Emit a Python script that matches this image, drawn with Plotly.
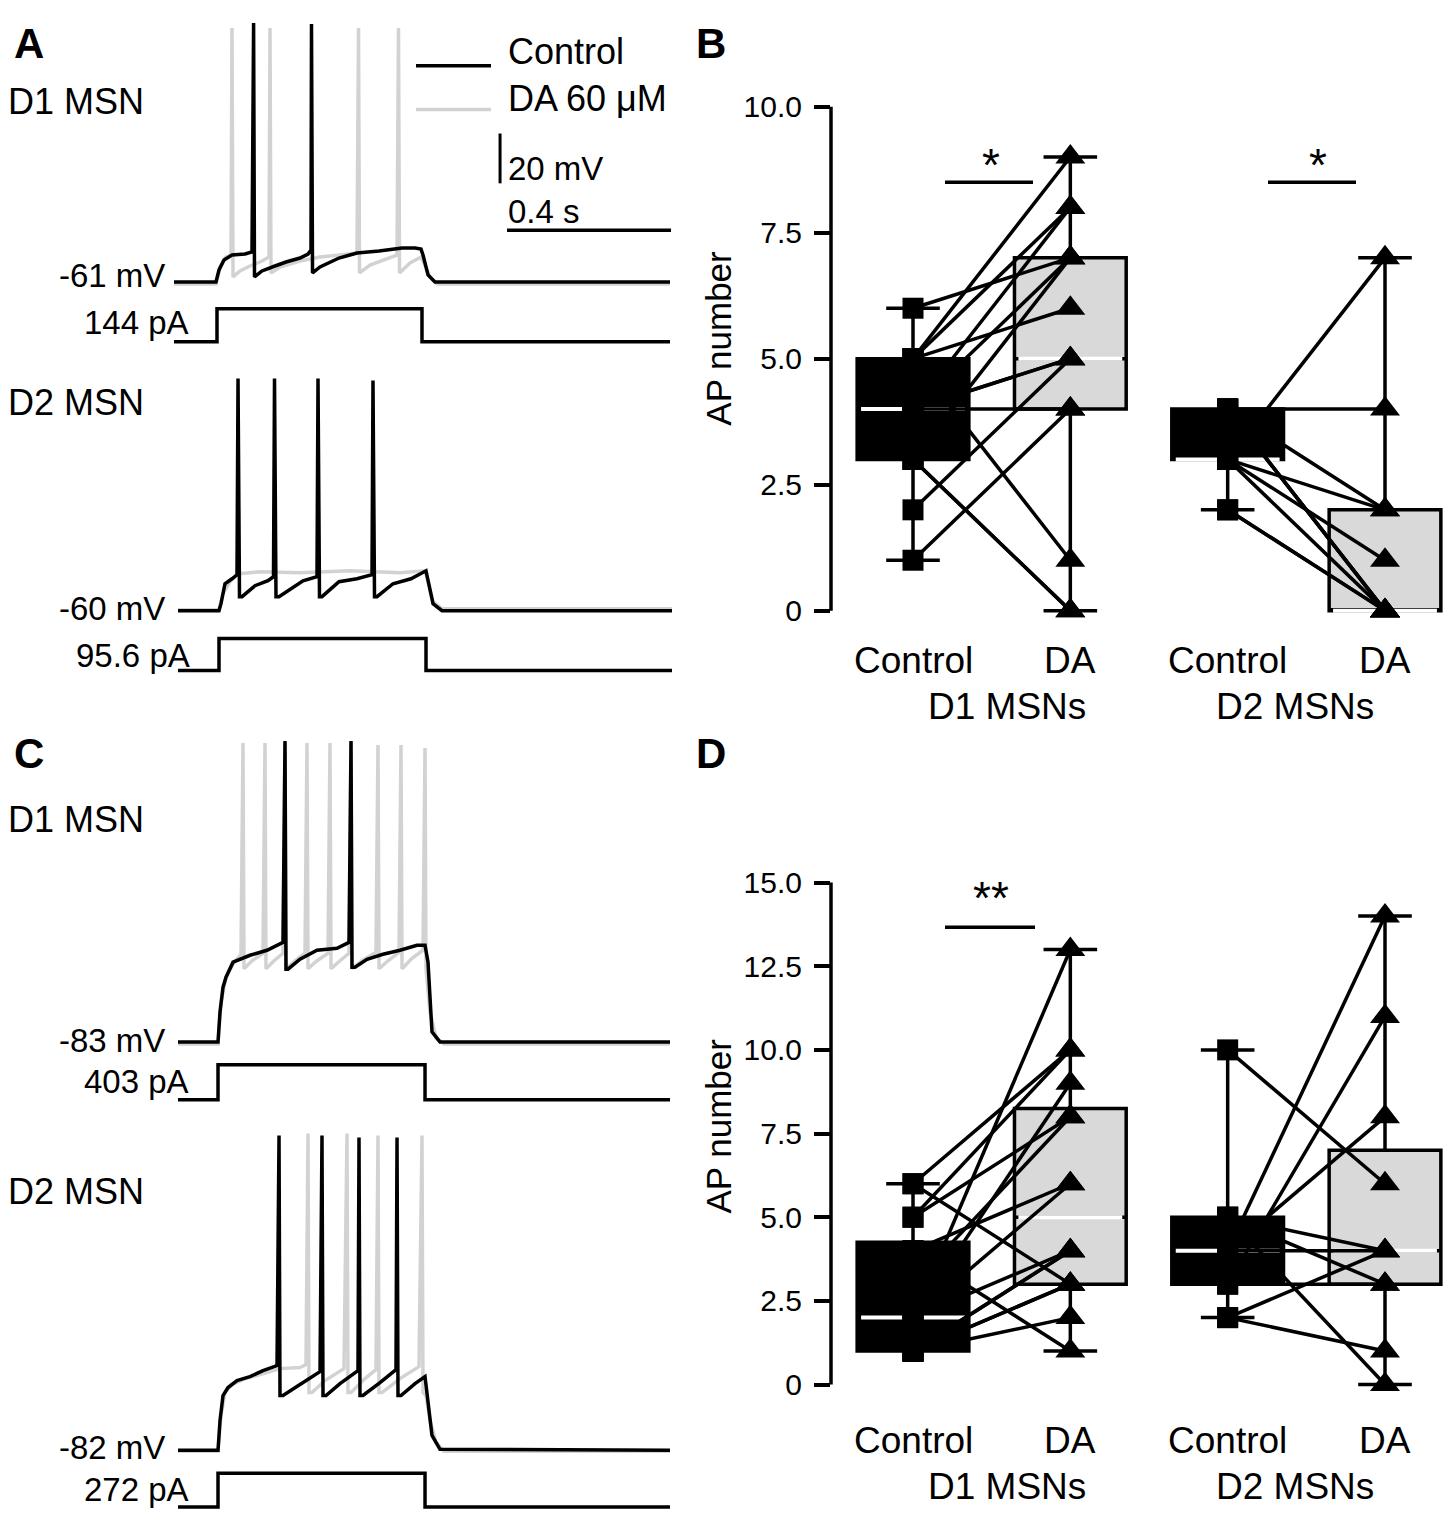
import numpy as np
import plotly.graph_objects as go

W, H = 1452, 1531
PAD = 8  # default body margin of the html page
FONT = "Liberation Sans, Arial, Helvetica, sans-serif"
TRACE_GRAY = "#d2d2d2"
BOX_GRAY = "#d9d9d9"

# ---------------- panels A and C: sweeps (time in ms, potential in mV) ----------------
a_d1_ctrl_t = [9.8, 112.2, 119.5, 131.7, 151.2, 182.9, 200.0, 203.9, 206.1, 224.4, 256.1, 282.9, 317.1, 336.6,
               343.9, 345.1, 347.6, 365.9, 412.2, 456.1, 509.8, 565.9, 597.6, 612.2, 617.1, 629.3, 646.3, 1219.5]
a_d1_ctrl_mv = [-61, -61, -56.2, -52.2, -50.2, -49.8, -49.0, 43.0, -59.0, -56.6, -54.6, -53.0, -51.4, -49.8,
                -48.2, 42.6, -57.4, -55.0, -51.4, -49.4, -48.6, -47.4, -47.4, -47.8, -50.2, -58.2, -61, -61]
a_d1_da_t = [9.8, 112.2, 122.0, 136.6, 148.8, 151.2, 153.7, 170.7, 195.1, 224.4, 241.5, 243.9, 246.3, 268.3,
             317.1, 365.9, 414.6, 456.1, 459.8, 462.2, 487.8, 524.4, 553.7, 557.3, 559.8, 585.4, 612.2, 619.5,
             634.1, 651.2, 1219.5]
a_d1_da_mv = [-61.8, -61.8, -55.0, -51.0, -50.2, 41.0, -59.0, -56.6, -54.6, -52.6, -51.0, 41.0, -57.4, -55.0,
              -52.6, -51.0, -50.2, -49.4, 41.0, -57.4, -54.2, -51.8, -50.2, 41.0, -57.4, -53.4, -51.0, -53.4,
              -59.0, -61.8, -61.8]

a_d2_ctrl_t = [19.5, 119.5, 124.4, 134.1, 151.2, 163.4, 165.9, 169.5, 175.6, 207.3, 239.0, 252.4, 254.9, 258.5,
               265.9, 324.4, 358.5, 361.0, 364.6, 370.7, 412.2, 456.1, 492.7, 495.1, 498.8, 504.9, 543.9, 587.8,
               624.4, 641.5, 663.4, 1224.4]
a_d2_ctrl_mv = [-60, -60, -57.2, -49.2, -47.2, -45.6, 33.2, -54.4, -54.4, -50.0, -48.0, -46.4, 33.2, -54.4,
                -54.4, -48.0, -46.4, 33.2, -54.4, -54.4, -48.4, -47.2, -45.6, 32.4, -54.4, -54.4, -49.2, -47.2,
                -44.0, -57.2, -60, -60]
a_d2_da_t = [19.5, 119.5, 129.3, 146.3, 165.9, 219.5, 317.1, 439.0, 561.0, 622.0, 629.3, 641.5, 663.4, 1224.4]
a_d2_da_mv = [-59.6, -59.6, -53.2, -48.4, -45.2, -44.4, -44.8, -44.0, -44.8, -44.0, -48.4, -56.4, -59.2, -59.2]

c_d1_ctrl_t = [19.5, 117.1, 122.0, 129.3, 136.6, 153.7, 195.1, 236.6, 275.6, 280.5, 282.9, 287.8, 317.1, 358.5,
               407.3, 436.6, 441.5, 443.9, 451.2, 480.5, 519.5, 561.0, 602.4, 622.0, 629.3, 639.0, 658.5, 1219.5]
c_d1_ctrl_mv = [-83, -83, -71, -61, -57, -51, -48.2, -46.2, -43, 37.8, -53.8, -53.8, -49.8, -46.2,
                -45.4, -43, 37.8, -53, -53, -49.8, -47.8, -46.2, -44.2, -44.2, -51, -79, -83, -83]
c_d1_da_t = [19.5, 117.1, 124.4, 136.6, 153.7, 173.2, 178.0, 180.5, 200.0, 226.8, 231.7, 234.1, 253.7, 275.6,
             280.5, 282.9, 304.9, 329.3, 334.1, 336.6, 358.5, 385.4, 390.2, 392.7, 414.6, 436.6, 441.5, 443.9,
             468.3, 502.4, 507.3, 509.8, 531.7, 558.5, 563.4, 565.9, 590.2, 617.1, 622.0, 624.4, 634.1, 648.8,
             668.3, 1219.5]
c_d1_da_mv = [-83.8, -83.8, -67, -57, -51.8, -47.8, 37, -53.6, -50.4, -47.4, 37, -53.6, -50.4, -47.4,
              37, -53.6, -50.4, -47.4, 37, -53.6, -50.4, -47.4, 37, -53.6, -50.4, -47.4, 37, -53.6,
              -50.4, -47, 36.2, -53.6, -50.4, -47, 36.2, -53.6, -49.4, -46.2, 35, -53.6, -71, -81.4,
              -83.8, -83.8]

c_d2_ctrl_t = [19.5, 117.1, 122.0, 129.3, 141.5, 163.4, 195.1, 226.8, 261.0, 265.9, 268.3, 275.6, 317.1, 365.9,
               370.7, 373.2, 380.5, 414.6, 458.5, 461.0, 463.4, 470.7, 512.2, 551.2, 553.7, 556.1, 563.4, 597.6,
               622.0, 629.3, 639.0, 658.5, 1219.5]
c_d2_ctrl_mv = [-82, -82, -70, -60, -56.8, -54, -52.4, -50, -48, 44.4, -60, -60, -55.6, -50.4,
                44.4, -60, -60, -55.2, -50, 43.6, -60, -60, -54.8, -49.6, 43.6, -60, -60, -55.2,
                -52.4, -62, -76, -81.6, -82]
c_d2_da_t = [19.5, 117.1, 124.4, 134.1, 151.2, 182.9, 219.5, 268.3, 317.1, 331.7, 336.6, 339.0, 346.3, 378.0,
             424.4, 431.7, 434.1, 441.5, 475.6, 502.4, 507.3, 509.8, 517.1, 561.0, 607.3, 614.6, 617.1, 624.4,
             634.1, 648.8, 668.3, 1219.5]
c_d2_da_mv = [-82.4, -82.4, -68, -58.8, -55.6, -53.2, -51.6, -49.2, -48.8, -47.6, 45.2, -58.8, -58.8, -54,
              -49.2, 45.2, -58.8, -58.8, -53.2, -49.6, 44.4, -58.8, -58.8, -53.2, -48.4, 44.4, -58.8, -60,
              -70, -78.8, -82.4, -82.4]

# injected current steps (pA)
a_d1_step_t = [9.8, 114.6, 114.6, 614.6, 614.6, 1219.5]
a_d1_step_pa = [0, 0, 144, 144, 0, 0]
a_d2_step_t = [19.5, 119.5, 119.5, 624.4, 624.4, 1224.4]
a_d2_step_pa = [0, 0, 95.6, 95.6, 0, 0]
c_d1_step_t = [19.5, 117.1, 117.1, 622.0, 622.0, 1219.5]
c_d1_step_pa = [0, 0, 403, 403, 0, 0]
c_d2_step_t = [19.5, 117.1, 117.1, 622.0, 622.0, 1219.5]
c_d2_step_pa = [0, 0, 272, 272, 0, 0]

# ---------------- panels B and D: AP number per cell (paired) ----------------
conditions = ["Control", "DA", "Control", "DA"]
groups = ["D1 MSNs", "D2 MSNs"]
b_d1_ctrl = [6, 5, 5, 5, 5, 4, 4, 4, 4, 3, 3, 3, 2, 1, 4]
b_d1_da = [7, 9, 6, 8, 1, 7, 8, 5, 4, 0, 0, 7, 5, 4, 5]
b_d2_ctrl = [3, 4, 4, 3, 3, 3, 4, 4, 2, 2, 4]
b_d2_da = [7, 4, 2, 2, 1, 0, 0, 0, 0, 0, 0]
d_d1_ctrl = [6, 6, 5, 5, 2, 2, 4, 4, 3, 2, 2, 1, 1, 1, 1, 1]
d_d1_da = [3, 10, 10, 8, 13, 9, 1, 6, 8, 6, 4, 4, 4, 3, 2, 3]
d_d2_ctrl = [10, 4, 3, 4, 5, 4, 2, 5, 3, 2, 5]
d_d2_da = [6, 14, 11, 8, 4, 4, 4, 3, 3, 1, 0]

FW, FH = W - 2 * PAD, H - 2 * PAD


def px(x):
    return (x - PAD) / FW


def py(y):
    return 1 - (y - PAD) / FH


def span(v0, p0, v1, p1, a, b):
    # axis range so that value v0 sits at pixel p0 and v1 at p1
    k = (v1 - v0) / (p1 - p0)
    return [v0 + (a - p0) * k, v0 + (b - p0) * k]


def ref(i, c):
    return c if i == 1 else f"{c}{i}"


def axkey(i, c):
    return f"{c}axis" if i == 1 else f"{c}axis{i}"


fig = go.Figure()
layout = {}
T_RANGE = span(0, 170, 1000, 580, 150, 700)

# (axis no, top px, bottom px, value, its px, value, its px)
trace_axes = [
    (1, 8, 292, -61, 277, -21, 177),
    (2, 294, 350, 0, 337, 144, 304),
    (3, 355, 620, -60, 607, -20, 507),
    (4, 624, 680, 0, 667, 95.6, 635),
    (5, 720, 1053, -83, 1040, -43, 940),
    (6, 1056, 1112, 0, 1098, 403, 1063),
    (7, 1115, 1462, -82, 1450, -42, 1350),
    (8, 1465, 1522, 0, 1507, 272, 1473),
]
for n, top, bot, v0, p0, v1, p1 in trace_axes:
    layout[axkey(n, "x")] = dict(domain=[px(150), px(700)], range=T_RANGE, visible=False,
                                 anchor=ref(n, "y"), fixedrange=True)
    layout[axkey(n, "y")] = dict(domain=[py(bot), py(top)], range=span(v0, p0, v1, p1, bot, top),
                                 visible=False, anchor=ref(n, "x"), fixedrange=True)

sweeps = [
    (1, a_d1_da_t, a_d1_da_mv, a_d1_ctrl_t, a_d1_ctrl_mv),
    (3, a_d2_da_t, a_d2_da_mv, a_d2_ctrl_t, a_d2_ctrl_mv),
    (5, c_d1_da_t, c_d1_da_mv, c_d1_ctrl_t, c_d1_ctrl_mv),
    (7, c_d2_da_t, c_d2_da_mv, c_d2_ctrl_t, c_d2_ctrl_mv),
]
for n, dt, dv, ct, cv in sweeps:
    fig.add_trace(go.Scatter(x=dt, y=dv, mode="lines", line=dict(color=TRACE_GRAY, width=3.5),
                             xaxis=ref(n, "x"), yaxis=ref(n, "y"), hoverinfo="skip", showlegend=False))
    fig.add_trace(go.Scatter(x=ct, y=cv, mode="lines", line=dict(color="black", width=3.5),
                             xaxis=ref(n, "x"), yaxis=ref(n, "y"), hoverinfo="skip", showlegend=False))

steps = [(2, a_d1_step_t, a_d1_step_pa), (4, a_d2_step_t, a_d2_step_pa),
         (6, c_d1_step_t, c_d1_step_pa), (8, c_d2_step_t, c_d2_step_pa)]
for n, st, sp in steps:
    fig.add_trace(go.Scatter(x=st, y=sp, mode="lines", line=dict(color="black", width=3.5),
                             xaxis=ref(n, "x"), yaxis=ref(n, "y"), hoverinfo="skip", showlegend=False))

# scale bars: 20 mV and 0.4 s on the first sweep axes
SCALE_MV, SCALE_MS = 20, 400
fig.add_trace(go.Scatter(x=[805, 805], y=[-21.4, -21.4 + SCALE_MV], mode="lines",
                         line=dict(color="black", width=3), hoverinfo="skip", showlegend=False))
fig.add_trace(go.Scatter(x=[822, 822 + SCALE_MS], y=[-40.2, -40.2], mode="lines",
                         line=dict(color="black", width=3.5), hoverinfo="skip", showlegend=False))

# ---------------- box plots ----------------
positions = [1, 2, 3, 4]
box_axes = [(9, 90, 640, 0, 607, 10, 101, [0, 2.5, 5, 7.5, 10], ["0", "2.5", "5.0", "7.5", "10.0"],
             [b_d1_ctrl, b_d1_da, b_d2_ctrl, b_d2_da]),
            (10, 860, 1420, 0, 1384, 15, 880, [0, 2.5, 5, 7.5, 10, 12.5, 15],
             ["0", "2.5", "5.0", "7.5", "10.0", "12.5", "15.0"],
             [d_d1_ctrl, d_d1_da, d_d2_ctrl, d_d2_da])]

shapes = []
annotations = []
BOX_W = 0.71
for n, top, bot, v0, p0, v1, p1, tv, tt, sets in box_axes:
    xr, yr = ref(n, "x"), ref(n, "y")
    layout[axkey(n, "x")] = dict(domain=[px(831), px(1444)], range=span(1, 913, 4, 1385, 831, 1444),
                                 visible=False, anchor=yr, fixedrange=True)
    layout[axkey(n, "y")] = dict(domain=[py(bot), py(top)], range=span(v0, p0, v1, p1, bot, top),
                                 anchor=xr, showline=False, showgrid=False, zeroline=False,
                                 ticks="outside", ticklen=16, tickwidth=3.5, tickcolor="black",
                                 tickvals=tv, ticktext=tt, ticklabelstandoff=6,
                                 tickfont=dict(size=30, color="black", family=FONT), fixedrange=True)
    shapes.append(dict(type="line", xref=f"{xr} domain", yref=yr, x0=0, x1=0, y0=tv[0], y1=tv[-1],
                       line=dict(color="black", width=3.5)))
    for pos, vals, cond in zip(positions, sets, conditions):
        a = np.array(vals, dtype=float)
        fig.add_trace(go.Box(x=[pos], q1=[np.percentile(a, 25)], median=[np.median(a)],
                             q3=[np.percentile(a, 75)], lowerfence=[a.min()], upperfence=[a.max()],
                             width=BOX_W, whiskerwidth=0.48, orientation="v", boxpoints=False,
                             fillcolor="black" if cond == "Control" else BOX_GRAY,
                             line=dict(color="black", width=3.5), xaxis=xr, yaxis=yr,
                             hoverinfo="skip", showlegend=False))
    for pos, vals in zip(positions, sets):
        m = float(np.median(vals))
        fig.add_trace(go.Scatter(x=[pos - 0.33, pos + 0.33], y=[m, m], mode="lines",
                                 line=dict(color="white", width=4), xaxis=xr, yaxis=yr,
                                 hoverinfo="skip", showlegend=False))
    for g in range(2):
        c_vals, d_vals = sets[2 * g], sets[2 * g + 1]
        c_pos, d_pos = positions[2 * g], positions[2 * g + 1]
        lx, ly = [], []
        for c, d in zip(c_vals, d_vals):
            lx += [c_pos, d_pos, None]
            ly += [c, d, None]
        fig.add_trace(go.Scatter(x=lx, y=ly, mode="lines", line=dict(color="black", width=3.5),
                                 xaxis=xr, yaxis=yr, hoverinfo="skip", showlegend=False))
        fig.add_trace(go.Scatter(x=[c_pos] * len(c_vals), y=c_vals, mode="markers", cliponaxis=False,
                                 marker=dict(symbol="square", size=21, color="black"),
                                 xaxis=xr, yaxis=yr, hoverinfo="skip", showlegend=False))
        fig.add_trace(go.Scatter(x=[d_pos] * len(d_vals), y=d_vals, mode="markers", cliponaxis=False,
                                 marker=dict(symbol="triangle-up", size=26, color="black"),
                                 xaxis=xr, yaxis=yr, hoverinfo="skip", showlegend=False))
    # category and group labels
    lab_y = 657 if n == 9 else 1440
    grp_y = lab_y + 46
    for pos, cond in zip(positions, conditions):
        annotations.append(dict(text=cond, x=pos, xref=xr, y=py(lab_y), yref="paper", showarrow=False,
                                xanchor="center", yanchor="middle", font=dict(size=37)))
    for gx, gname in zip([1.6, 3.43], groups):
        annotations.append(dict(text=gname, x=gx, xref=xr, y=py(grp_y), yref="paper", showarrow=False,
                                xanchor="center", yanchor="middle", font=dict(size=37)))


def text(t, x, y, size=36, anchor="left", bold=False, angle=0):
    annotations.append(dict(text=f"<b>{t}</b>" if bold else t, x=px(x), y=py(y), xref="paper", yref="paper",
                            showarrow=False, xanchor=anchor, yanchor="middle", textangle=angle,
                            font=dict(size=size)))


def hline(x0, x1, y, color="black", width=3.5):
    shapes.append(dict(type="line", xref="paper", yref="paper", x0=px(x0), x1=px(x1), y0=py(y), y1=py(y),
                       line=dict(color=color, width=width)))


# panel letters
text("A", 29, 38, 42, "center", True)
text("B", 711, 38, 42, "center", True)
text("C", 29, 750, 42, "center", True)
text("D", 711, 750, 42, "center", True)

# cell labels and holding values
text("D1 MSN", 6, 96)
text("D2 MSN", 6, 398)
text("D1 MSN", 6, 817)
text("D2 MSN", 6, 1190)
text("-61 mV", 167, 271, 33, "right")
text("144 pA", 191, 318, 33, "right")
text("-60 mV", 167, 605, 33, "right")
text("95.6 pA", 192, 652, 33, "right")
text("-83 mV", 167, 1039, 33, "right")
text("403 pA", 191, 1080, 33, "right")
text("-82 mV", 167, 1447, 33, "right")
text("272 pA", 191, 1489, 33, "right")

# legend and scale bar labels
hline(416, 491, 60)
hline(416, 491, 104, TRACE_GRAY)
text("Control", 506, 46)
text("DA 60 μM", 506, 93)
text("20 mV", 506, 163, 33)
text("0.4 s", 506, 206, 33)

# y titles
text("AP number", 719, 334, 35, "center", angle=-90)
text("AP number", 719, 1125, 35, "center", angle=-90)

# significance
hline(945, 1033, 177)
hline(1268, 1356, 177)
hline(945, 1035, 925)
text("*", 991, 160, 46, "center")
text("*", 1318, 160, 46, "center")
text("**", 991, 896, 46, "center")

layout.update(
    width=FW, height=FH, margin=dict(l=0, r=0, t=0, b=0),
    paper_bgcolor="white", plot_bgcolor="rgba(0,0,0,0)",
    font=dict(family=FONT, color="black", size=34),
    showlegend=False, shapes=shapes, annotations=annotations,
)
fig.update_layout(**layout)
fig.write_html("out.html")
